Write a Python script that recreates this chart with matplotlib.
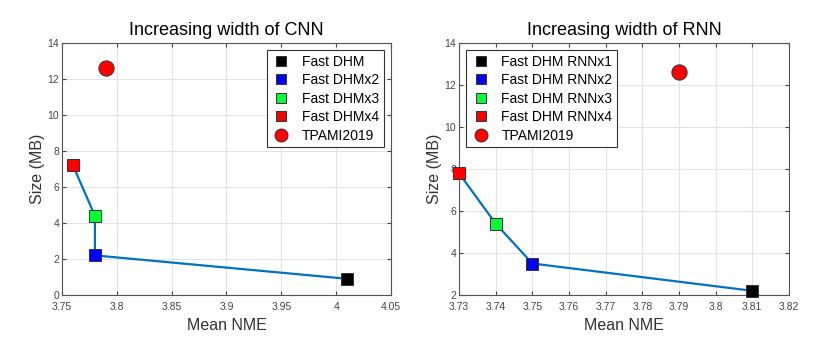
import numpy as np
import matplotlib
matplotlib.use("Agg")
import matplotlib.pyplot as plt

plt.rcParams['font.family'] = ['Liberation Sans', 'DejaVu Sans']

# DATA
cnn_labels = ["Fast DHM", "Fast DHMx2", "Fast DHMx3", "Fast DHMx4"]
cnn_nme = [4.01, 3.78, 3.78, 3.76]
cnn_size = [0.9, 2.2, 4.4, 7.2]

rnn_labels = ["Fast DHM RNNx1", "Fast DHM RNNx2", "Fast DHM RNNx3", "Fast DHM RNNx4"]
rnn_nme = [3.81, 3.75, 3.74, 3.73]
rnn_size = [2.2, 3.5, 5.4, 7.8]

tpami_label = "TPAMI2019"
tpami_nme = 3.79
tpami_size = 12.6

sq_colors = ["black", "#0000ff", "#00ff33", "#ff0000"]
line_col = (0, 0.447, 0.741)

fig = plt.figure(figsize=(8.31, 3.45), dpi=100)
ax1 = fig.add_axes([62/831, 1-295/345, 329/831, 252/345])
ax2 = fig.add_axes([459/831, 1-295/345, 330/831, 252/345])


def draw(ax, labels, xs, ys, title, xlim, xticks, ylim, yticks, loc):
    ax.plot(xs, ys, color=line_col, lw=1.6, zorder=2, clip_on=False)
    for lab, x, y, c in zip(labels, xs, ys, sq_colors):
        ax.plot(x, y, 's', ms=8, color=c, mec="#333333", mew=0.7,
                label=lab, zorder=3, clip_on=False)
    ax.plot(tpami_nme, tpami_size, 'o', ms=11, color="#ff0000",
            mec="#333333", mew=0.7, label=tpami_label, zorder=3)

    ax.set_xlim(*xlim)
    ax.set_ylim(*ylim)
    ax.set_xticks(xticks)
    ax.set_xticklabels([f"{t:g}" for t in xticks])
    ax.set_yticks(yticks)
    ax.grid(True, color="#e3e3e3", lw=0.8)
    ax.set_axisbelow(True)
    ax.tick_params(direction="in", length=3, labelsize=7.5,
                   colors="#444444", top=True, right=True, pad=2)
    ax.tick_params(axis="x", pad=5)
    for s in ax.spines.values():
        s.set_color("#555555")
        s.set_linewidth(0.8)

    ax.set_title(title, fontsize=13, pad=6)
    ax.set_xlabel("Mean NME", fontsize=11.5, color="#333333", labelpad=4)
    ax.set_ylabel("Size (MB)", fontsize=11.5, color="#333333", labelpad=2)

    leg = ax.legend(loc=loc, fontsize=10, fancybox=False, framealpha=1,
                    edgecolor="#333333", handletextpad=0.8, handlelength=1.4,
                    labelspacing=0.32, borderpad=0.35, markerscale=0.85)
    leg.get_frame().set_linewidth(0.8)


draw(ax1, cnn_labels, cnn_nme, cnn_size, "Increasing width of CNN",
     (3.75, 4.05), [3.75, 3.8, 3.85, 3.9, 3.95, 4.0, 4.05],
     (0, 14), [0, 2, 4, 6, 8, 10, 12, 14], "upper right")
draw(ax2, rnn_labels, rnn_nme, rnn_size, "Increasing width of RNN",
     (3.73, 3.82), [3.73, 3.74, 3.75, 3.76, 3.77, 3.78, 3.79, 3.8, 3.81, 3.82],
     (2, 14), [2, 4, 6, 8, 10, 12, 14], "upper left")

fig.savefig("out.png", dpi=100)
